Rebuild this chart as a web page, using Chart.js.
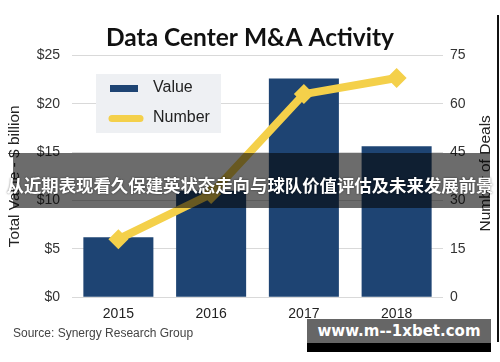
<!DOCTYPE html>
<html>
<head>
<meta charset="utf-8">
<script src="https://cdn.jsdelivr.net/npm/chart.js@4.4.0/dist/chart.umd.min.js"></script>
<style>
    body { margin: 0; background: #fff; }
    #wrap { position: relative; width: 500px; height: 362px; overflow: hidden; }
    #banner {
        position: absolute; left: 13px; top: 153px; width: 477px; height: 55px;
        background: rgba(5, 5, 5, 0.59);
    }
    #bannerText {
        position: absolute; left: 0; top: 171px; width: 500px; text-align: center;
        font: bold 17.4px "Noto Sans CJK SC", sans-serif; color: #fff; line-height: 28px;
        white-space: nowrap; text-shadow: 0 0 2px rgba(0,0,0,0.6);
    }
    #mark {
        position: absolute; left: 307px; top: 319px; width: 184px; height: 24px;
        background: #666; color: #fff; text-align: center; white-space: nowrap;
        font: bold 15px "DejaVu Sans", sans-serif; line-height: 24px;
    }
    #markBar { position: absolute; left: 307px; top: 343px; width: 184px; height: 9px; background: #000; }
    #edge { position: absolute; left: 497px; top: 15px; width: 2px; height: 327px; background: #111; }
</style>
</head>
<body>
<div id="wrap">
    <canvas id="chart" width="500" height="362"></canvas>
    <div id="banner"></div>
    <div id="bannerText">从近期表现看久保建英状态走向与球队价值评估及未来发展前景</div>
    <div id="mark">www.m--1xbet.com</div>
    <div id="markBar"></div>
    <div id="edge"></div>
</div>
<script>
    const years = ['2015', '2016', '2017', '2018'];
    const dealValue = [6.2, 11.0, 22.6, 15.6]; // $ billion
    const dealCount = [18, 32, 63, 68];

    const navy = '#1e4473';
    const yellow = '#f4d04a';

    // legend box, right axis title (reads bottom-up) and source line drawn by hand
    const extras = {
        id: 'extras',
        afterDraw(chart) {
            const ctx = chart.ctx;
            const area = chart.chartArea;
            ctx.save();
            ctx.fillStyle = '#eef0f3';
            ctx.fillRect(96, 74, 125, 59);

            ctx.fillStyle = navy;
            ctx.fillRect(110, 85, 28, 7);

            ctx.strokeStyle = yellow;
            ctx.lineWidth = 7;
            ctx.lineCap = 'round';
            ctx.beginPath();
            ctx.moveTo(112, 118.5);
            ctx.lineTo(140, 118.5);
            ctx.stroke();

            ctx.fillStyle = '#222';
            ctx.font = '16px "Liberation Sans", Arial, sans-serif';
            ctx.textBaseline = 'middle';
            ctx.fillText('Value', 153, 88);
            ctx.fillText('Number', 153, 118);

            ctx.save();
            ctx.translate(486, (area.top + area.bottom) / 2 - 3);
            ctx.rotate(-Math.PI / 2);
            ctx.textAlign = 'center';
            ctx.font = '15.5px "Liberation Sans", Arial, sans-serif';
            ctx.fillText('Number of Deals', 0, 0);
            ctx.restore();

            ctx.fillStyle = '#444';
            ctx.font = '12px "Liberation Sans", Arial, sans-serif';
            ctx.fillText('Source: Synergy Research Group', 13, 334);
            ctx.restore();
        }
    };

    new Chart(document.getElementById('chart'), {
        data: {
            labels: years,
            datasets: [{
                type: 'line',
                label: 'Number',
                data: dealCount,
                yAxisID: 'yNum',
                borderColor: yellow,
                backgroundColor: yellow,
                borderWidth: 8,
                pointStyle: 'rectRot',
                pointRadius: 10,
                pointBorderWidth: 0,
                pointBackgroundColor: yellow,
                tension: 0,
                order: 1
            }, {
                type: 'bar',
                label: 'Value',
                data: dealValue,
                yAxisID: 'yVal',
                backgroundColor: navy,
                barPercentage: 0.755,
                categoryPercentage: 1,
                order: 2
            }]
        },
        options: {
            responsive: false,
            animation: false,
            layout: {padding: {top: 0, left: 0, right: 0, bottom: 38}},
            plugins: {
                legend: {display: false},
                tooltip: {enabled: false},
                title: {
                    display: true,
                    text: 'Data Center M&A Activity',
                    color: '#111',
                    font: {family: 'Lato', size: 24.5, weight: 'bold'},
                    padding: {top: 23, bottom: 3}
                }
            },
            scales: {
                x: {
                    grid: {display: false},
                    border: {display: false},
                    ticks: {color: '#222', padding: 1, font: {family: '"Liberation Sans"', size: 14}}
                },
                yVal: {
                    position: 'left',
                    min: 0,
                    max: 25,
                    afterFit: s => { s.width = 72; },
                    grid: {color: '#d9d9d9', drawTicks: false},
                    border: {display: false},
                    ticks: {
                        stepSize: 5,
                        padding: 12,
                        color: '#333',
                        font: {family: '"Liberation Sans"', size: 14},
                        callback: v => '$' + v
                    },
                    title: {
                        display: true,
                        text: 'Total Value - $ billion',
                        color: '#222',
                        padding: {top: 5, bottom: 0},
                        font: {family: '"Liberation Sans"', size: 15.5}
                    }
                },
                yNum: {
                    position: 'right',
                    min: 0,
                    max: 75,
                    afterFit: s => { s.width = 57; },
                    grid: {display: false, drawTicks: false},
                    border: {display: false},
                    ticks: {
                        stepSize: 15,
                        padding: 7,
                        color: '#333',
                        font: {family: '"Liberation Sans"', size: 14}
                    }
                }
            }
        },
        plugins: [extras]
    });
</script>
</body>
</html>
